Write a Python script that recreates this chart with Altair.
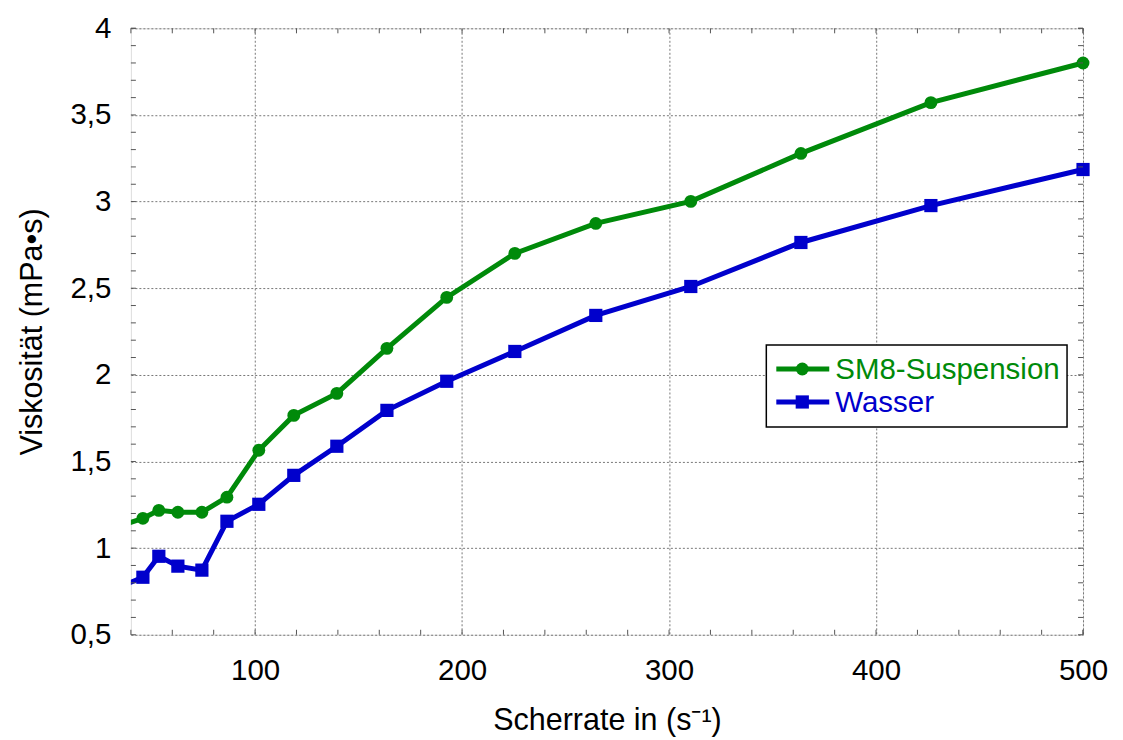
import altair as alt
import pandas as pd

# ---- data ----
shear_rate = [35, 45.8, 53.5, 62.7, 74.3, 86.4, 101.8, 118.7, 139.5, 163.7, 192.6,
              225.5, 264.6, 310.5, 363.7, 426.5, 500]
sm8_suspension = [1.13, 1.172, 1.218, 1.207, 1.207, 1.294, 1.565, 1.766, 1.893, 2.153,
                  2.447, 2.701, 2.874, 3.001, 3.278, 3.571, 3.80]
wasser = [0.778, 0.832, 0.953, 0.896, 0.873, 1.155, 1.253, 1.42, 1.588, 1.795, 1.963,
          2.135, 2.343, 2.51, 2.764, 2.977, 3.185]

series_names = ["SM8-Suspension", "Wasser"]
series_colors = ["#008a0a", "#0000cc"]

x_major = [100, 200, 300, 400, 500]
y_major = [0.5, 1.0, 1.5, 2.0, 2.5, 3.0, 3.5, 4.0]
x_minor = [40 + 20 * i for i in range(24)]
y_minor = [round(0.5 + 0.1 * i, 2) for i in range(36)]

W, H = 953, 607
FONT = "Liberation Sans"
LBL = 29.5
TTL = 30.5

rows = []
for xv, a, b in zip(shear_rate, sm8_suspension, wasser):
    rows.append({"x": xv, "y": a, "series": series_names[0]})
    rows.append({"x": xv, "y": b, "series": series_names[1]})
df = pd.DataFrame(rows)

xscale = alt.Scale(domain=[40, 500], nice=False, zero=False)
yscale = alt.Scale(domain=[0.5, 4], nice=False, zero=False)
cscale = alt.Scale(domain=series_names, range=series_colors)

xaxis = alt.Axis(values=x_major, format="d", title="Scherrate in (s⁻¹)", ticks=False,
                 domain=False, grid=True, gridDash=[2, 2], gridColor="#777777",
                 gridWidth=1, labelFontSize=LBL, titleFontSize=TTL, labelFont=FONT,
                 titleFont=FONT, titleFontWeight="normal", labelPadding=22,
                 labelFlush=False, labelOverlap=False,
                 titlePadding=20, labelColor="black", titleColor="black")
yaxis = alt.Axis(values=y_major, labelExpr="replace(toString(datum.value), '.', ',')",
                 title="Viskosität (mPa•s)", ticks=False, domain=False, grid=True,
                 gridDash=[2, 2], gridColor="#777777", gridWidth=1, labelFontSize=LBL,
                 titleFontSize=TTL, labelFont=FONT, titleFont=FONT,
                 labelFlush=False, labelOverlap=False,
                 titleFontWeight="normal", labelPadding=20, titlePadding=22,
                 labelColor="black", titleColor="black")

base = alt.Chart(df)

lines = base.mark_line(strokeWidth=5, clip=True).encode(
    x=alt.X("x:Q", scale=xscale, axis=xaxis),
    y=alt.Y("y:Q", scale=yscale, axis=yaxis),
    color=alt.Color("series:N", scale=cscale, legend=None),
    detail="series:N",
)

circles = base.transform_filter(
    (alt.datum.x >= 40) & (alt.datum.series == series_names[0])
).mark_point(filled=True, opacity=1, shape="circle", size=165).encode(
    x="x:Q", y="y:Q", color=alt.Color("series:N", scale=cscale, legend=None)
)
squares = base.transform_filter(
    (alt.datum.x >= 40) & (alt.datum.series == series_names[1])
).mark_point(filled=True, opacity=1, shape="square", size=175).encode(
    x="x:Q", y="y:Q", color=alt.Color("series:N", scale=cscale, legend=None)
)

# inward ticks on all four sides
xt = pd.DataFrame({"v": x_minor + [500]})
yt = pd.DataFrame({"v": y_minor + [4.0]})
tick_col = "#555555"
xt_bottom = alt.Chart(xt).mark_rule(color=tick_col, strokeWidth=1).encode(
    x="v:Q", y=alt.value(H), y2=alt.value(H - 5))
xt_top = alt.Chart(xt).mark_rule(color=tick_col, strokeWidth=1).encode(
    x="v:Q", y=alt.value(0), y2=alt.value(5))
yt_left = alt.Chart(yt).mark_rule(color=tick_col, strokeWidth=1).encode(
    y="v:Q", x=alt.value(0), x2=alt.value(5))
yt_right = alt.Chart(yt).mark_rule(color=tick_col, strokeWidth=1).encode(
    y="v:Q", x=alt.value(W - 5), x2=alt.value(W))

# custom legend box
leg = pd.DataFrame({"series": series_names})
legend_box = alt.Chart(pd.DataFrame({"k": [0]})).mark_rect(
    fill="white", stroke="black", strokeWidth=1.5
).encode(x=alt.value(636), x2=alt.value(937), y=alt.value(317), y2=alt.value(399))

legend_layers = []
row_y = [341, 374]
for i, name in enumerate(series_names):
    d = alt.Chart(leg).transform_filter(alt.datum.series == name)
    legend_layers.append(d.mark_rule(strokeWidth=5).encode(
        x=alt.value(646), x2=alt.value(699), y=alt.value(row_y[i]),
        color=alt.Color("series:N", scale=cscale, legend=None)))
    legend_layers.append(d.mark_point(filled=True, opacity=1,
                                      shape="circle" if i == 0 else "square",
                                      size=165 if i == 0 else 175).encode(
        x=alt.value(672), y=alt.value(row_y[i]),
        color=alt.Color("series:N", scale=cscale, legend=None)))
    legend_layers.append(d.mark_text(align="left", baseline="middle", fontSize=LBL,
                                     font=FONT).encode(
        x=alt.value(705), y=alt.value(row_y[i] + 1), text="series:N",
        color=alt.Color("series:N", scale=cscale, legend=None)))

chart = alt.layer(
    lines, circles, squares, xt_bottom, xt_top, yt_left, yt_right,
    legend_box, *legend_layers
).properties(
    width=W, height=H,
    autosize=alt.AutoSizeParams(type="none"),
    padding={"left": 123, "top": 20, "right": 32, "bottom": 102},
).configure_view(stroke="black", strokeWidth=1.5).configure(background="white")

chart.save("out.html", embed_options={"renderer": "svg", "actions": False})
